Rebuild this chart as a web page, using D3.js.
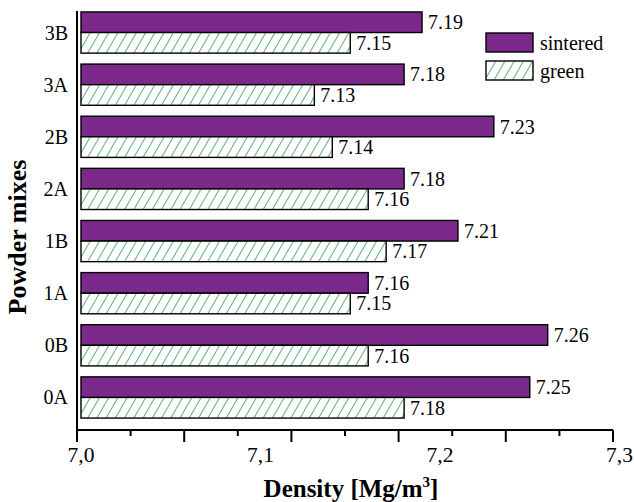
<!DOCTYPE html>
<html>
<head>
<meta charset="utf-8">
<script src="https://cdn.jsdelivr.net/npm/d3@7"></script>
<style>
  body { margin: 0; background: #fff; }
  text { font-family: "Liberation Serif", "Times New Roman", serif; fill: #000; }
</style>
</head>
<body>
<div id="plot"></div>
<script>
// data (top to bottom)
var categories = ["3B", "3A", "2B", "2A", "1B", "1A", "0B", "0A"];
var sintered = [7.19, 7.18, 7.23, 7.18, 7.21, 7.16, 7.26, 7.25];
var green = [7.15, 7.13, 7.14, 7.16, 7.17, 7.15, 7.16, 7.18];
var seriesNames = ["sintered", "green"];
var xTickLabels = [7.0, 7.1, 7.2, 7.3];

var width = 634, height = 502;
var purple = "#7b2a8c", hatchGreen = "#2a9a48";

var svg = d3.select("div#plot")
    .append("svg")
    .attr("width", width)
    .attr("height", height);

// hatch pattern for green bars
var defs = svg.append("defs");
var pat = defs.append("pattern")
    .attr("id", "hatch")
    .attr("patternUnits", "userSpaceOnUse")
    .attr("width", 8)
    .attr("height", 8)
    .attr("patternTransform", "rotate(30)");
pat.append("rect").attr("width", 8).attr("height", 8).attr("fill", "#fff");
pat.append("line")
    .attr("x1", 0).attr("y1", 0).attr("x2", 0).attr("y2", 8)
    .attr("stroke", hatchGreen)
    .attr("stroke-width", 1.5);

// scales
var xScale = d3.scaleLinear().domain([7.0, 7.3]).range([81, 619.5]);
// tick marks in the original sit on a slightly different grid
var tickScale = d3.scaleLinear().domain([7.0, 7.3]).range([77, 613]);

var yScale = d3.scaleBand().domain(categories).range([1, 429]).padding(0.21);
var ySub = d3.scaleBand().domain(seriesNames).range([0, yScale.bandwidth()]);

var rows = categories.map(function (c, i) {
    return { cat: c, sintered: sintered[i], green: green[i] };
});

// bars
var groups = svg.selectAll(".grp")
    .data(rows)
    .enter().append("g")
    .attr("class", "grp")
    .attr("transform", function (d) { return "translate(0," + yScale(d.cat) + ")"; });

seriesNames.forEach(function (s) {
    groups.append("rect")
        .attr("x", xScale(7.0))
        .attr("y", ySub(s))
        .attr("width", function (d) { return xScale(d[s]) - xScale(7.0); })
        .attr("height", ySub.bandwidth())
        .attr("fill", s === "sintered" ? purple : "url(#hatch)")
        .attr("stroke", "#000")
        .attr("stroke-width", 1.4);

    groups.append("text")
        .attr("x", function (d) { return xScale(d[s]) + 6; })
        .attr("y", ySub(s) + ySub.bandwidth() / 2)
        .attr("dy", "0.35em")
        .style("font-size", "20px")
        .text(function (d) { return d[s].toFixed(2); });
});

// x axis: line and ticks
var tickVals = d3.range(0, 11).map(function (i) { return 7.0 + i * 0.03; });
svg.append("line")
    .attr("x1", 77).attr("x2", tickScale(7.3))
    .attr("y1", 430).attr("y2", 430)
    .attr("stroke", "#000").attr("stroke-width", 2);
svg.selectAll(".xtick")
    .data(tickVals)
    .enter().append("line")
    .attr("class", "xtick")
    .attr("x1", function (d) { return tickScale(d); })
    .attr("x2", function (d) { return tickScale(d); })
    .attr("y1", 430)
    .attr("y2", function (d, i) { return i % 2 === 0 ? 442 : 436; })
    .attr("stroke", "#000").attr("stroke-width", 2);

// x tick labels
svg.selectAll(".xlab")
    .data(xTickLabels)
    .enter().append("text")
    .attr("class", "xlab")
    .attr("x", function (d) { return xScale(d); })
    .attr("y", 462)
    .style("text-anchor", "middle")
    .style("font-size", "21.5px")
    .text(function (d) { return d.toFixed(1).replace(".", ","); });

// y axis line
svg.append("line")
    .attr("x1", 77).attr("x2", 77)
    .attr("y1", 11).attr("y2", 431)
    .attr("stroke", "#000").attr("stroke-width", 2);

// y category labels
svg.selectAll(".ylab")
    .data(categories)
    .enter().append("text")
    .attr("class", "ylab")
    .attr("x", 68)
    .attr("y", function (d) { return yScale(d) + yScale.bandwidth() / 2; })
    .attr("dy", "0.35em")
    .style("text-anchor", "end")
    .style("font-size", "20px")
    .text(function (d) { return d; });

// axis titles
var xt = svg.append("text")
    .attr("x", 351)
    .attr("y", 497)
    .style("text-anchor", "middle")
    .style("font-size", "25px")
    .style("font-weight", "bold");
xt.append("tspan").text("Density [Mg/m");
xt.append("tspan").attr("dy", "-10").style("font-size", "15px").text("3");
xt.append("tspan").attr("dy", "10").text("]");

svg.append("text")
    .attr("transform", "translate(26,237) rotate(-90)")
    .style("text-anchor", "middle")
    .style("font-size", "26px")
    .style("font-weight", "bold")
    .text("Powder mixes");

// legend
var legend = svg.selectAll(".leg")
    .data(seriesNames)
    .enter().append("g")
    .attr("class", "leg")
    .attr("transform", function (d, i) { return "translate(486," + (33 + i * 28) + ")"; });
legend.append("rect")
    .attr("width", 47)
    .attr("height", 19)
    .attr("fill", function (d) { return d === "sintered" ? purple : "url(#hatch)"; })
    .attr("stroke", "#000")
    .attr("stroke-width", 1.4);
legend.append("text")
    .attr("x", 54)
    .attr("y", 10)
    .attr("dy", "0.35em")
    .style("font-size", "20px")
    .text(function (d) { return d; });
</script>
</body>
</html>
